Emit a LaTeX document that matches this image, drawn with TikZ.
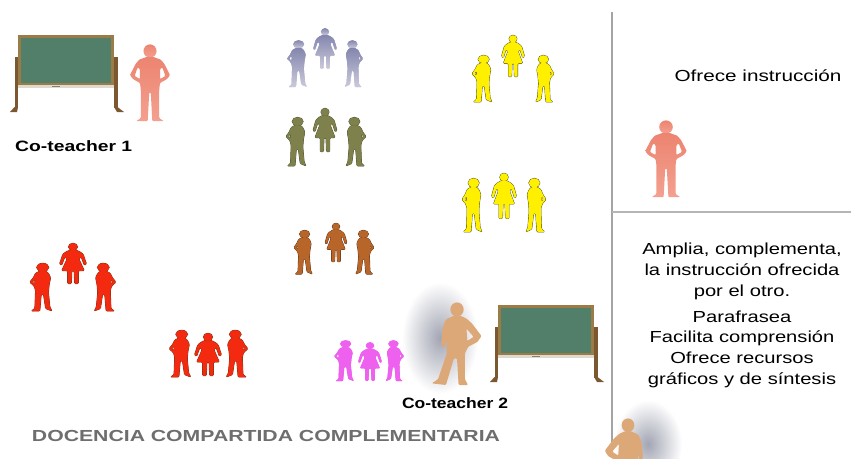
\documentclass[tikz,border=0pt]{standalone}
\usepackage{fontspec}
\setmainfont{Liberation Sans}
\usepackage{graphicx}
\definecolor{lavtop}{HTML}{8486AE}
\definecolor{lavbot}{HTML}{CBCADB}
\definecolor{olivefill}{HTML}{7E814C}
\definecolor{oliveline}{HTML}{4F5430}
\definecolor{yelfill}{HTML}{FFF000}
\definecolor{yelline}{HTML}{4A4820}
\definecolor{brownfill}{HTML}{B8652A}
\definecolor{brownline}{HTML}{5E3418}
\definecolor{redfill}{HTML}{F42A10}
\definecolor{redline}{HTML}{7A3216}
\definecolor{magfill}{HTML}{EE60EE}
\definecolor{salmontop}{HTML}{EC8470}
\definecolor{salmonbot}{HTML}{F4A090}
\definecolor{tanfill}{HTML}{DDA878}
\definecolor{glow}{HTML}{A2A5B3}
\definecolor{boardframe}{HTML}{9C7C46}
\definecolor{boardgreen}{HTML}{527F69}
\definecolor{boardleg}{HTML}{7B5830}
\definecolor{boardtray}{HTML}{DEDAD0}
\definecolor{rule}{HTML}{A4A4A4}
\definecolor{titlegray}{HTML}{6E6E6E}
\newcommand\widetext[2]{\resizebox{#1}{\height}{#2}}
\tikzset{
  % silhouettes, drawn with y pointing down, 100 units tall, origin on top of the head
  head path/.style={insert path={(0,9) circle (8.5)}},
  side head path/.style={insert path={(1,9) circle (8.5)}},
  woman body path/.style={insert path={(-5,16.5) -- (-13,21) -- (-19,27) -- (-25,50) -- (-21,53)
      -- (-15,33) -- (-11,38) -- (-21,66) -- (-10,66) -- (-10,97) -- (-3,97) -- (-2,66) -- (2,66)
      -- (3,97) -- (10,97) -- (10,66) -- (21,66) -- (11,38) -- (15,33) -- (21,53) -- (25,50)
      -- (19,27) -- (13,21) -- (5,16.5) -- cycle}},
  side body path/.style={insert path={(-3,16.5) -- (-9,21) -- (-12,30) -- (-17,39) -- (-11,47)
      -- (-9,56) -- (-10,93) -- (-15,98) -- (-3,98) -- (-1,64) -- (2,64) -- (5,93) -- (14,98)
      -- (11,90) -- (9,60) -- (10,44) -- (12,30) -- (9,21) -- (5,16.5) -- cycle
      (-10,33) -- (-13.5,39) -- (-10,43) -- cycle}},
  front body path/.style={insert path={(-4,16.5) -- (-14,20) -- (-19,26) -- (-26,40) -- (-22,45)
      -- (-13,50) -- (-12,58) -- (-12,95) -- (-18,99) -- (-3,99) -- (-1,62) -- (1,62) -- (3,99)
      -- (18,99) -- (12,95) -- (12,58) -- (13,50) -- (22,45) -- (26,40) -- (19,26) -- (14,20)
      -- (4,16.5) -- cycle
      (-16,30) -- (-20,41) -- (-13,45) -- (-13,32) -- cycle
      (16,30) -- (20,41) -- (13,45) -- (13,32) -- cycle}},
  stride body path/.style={insert path={(-4,16.5) -- (-14,21) -- (-18,30) -- (-20,50) -- (-16,56)
      -- (-13,44) -- (-13,62) -- (-24,93) -- (-32,98) -- (-14,100) -- (-4,68) -- (0,68) -- (2,100)
      -- (14,100) -- (10,93) -- (10,62) -- (14,54) -- (26,48) -- (31,41) -- (19,26) -- (12,20)
      -- (4,16.5) -- cycle
      (12,32) -- (21,42) -- (13,47) -- cycle}},
  % outline pass first, then a fill-only pass that hides inner seams
  woman/.pic={
    \path[pic actions, head path];
    \path[pic actions, rounded corners=1, woman body path];
    \path[pic actions, draw=none, head path];
    \path[pic actions, draw=none, rounded corners=1, woman body path];
  },
  side/.pic={
    \path[pic actions, side head path];
    \path[pic actions, even odd rule, rounded corners=1, side body path];
    \path[pic actions, draw=none, side head path];
    \path[pic actions, draw=none, even odd rule, rounded corners=1, side body path];
  },
  frontman/.pic={
    \path[pic actions, head path];
    \path[pic actions, even odd rule, rounded corners=1, front body path];
  },
  strideman/.pic={
    \path[pic actions, head path];
    \path[pic actions, even odd rule, rounded corners=1, stride body path];
  },
  chalkboard/.pic={
    \fill[boardleg] (-3.5,22) rectangle (0,73);
    \fill[boardleg] (96,22) rectangle (99.5,73);
    \fill[boardleg] (-3.5,72) -- (0,72) -- (-1,77) -- (-8,77) -- cycle;
    \fill[boardleg] (96,72) -- (99.5,72) -- (106,77) -- (99,77) -- cycle;
    \fill[boardframe] (0,0) rectangle (96,50);
    \fill[boardgreen] (3,3) rectangle (93,47.5);
    \fill[boardtray] (0,50) rectangle (96,53);
    \fill[gray] (34,50.6) rectangle (42,52.4);
  },
  lav/.style={top color=lavtop, bottom color=lavbot, draw=none},
  olv/.style={fill=olivefill, draw=oliveline, line width=0.8pt},
  yel/.style={fill=yelfill, draw=yelline, line width=0.8pt},
  brn/.style={fill=brownfill, draw=brownline, line width=0.8pt},
  rd/.style={fill=redfill, draw=redline, line width=0.8pt},
  mag/.style={fill=magfill, draw=none},
  salmon/.style={top color=salmontop, bottom color=salmonbot, draw=none},
  tan/.style={fill=tanfill, draw=none},
  label/.style={inner sep=0pt, font=\fontsize{15}{18}\selectfont\bfseries},
  panel/.style={inner sep=0pt, align=center, font=\fontsize{16}{21}\selectfont},
}
\begin{document}
\begin{tikzpicture}[x=1pt,y=-1pt]
\useasboundingbox (0,0) rectangle (851,458);
\fill[white] (0,0) rectangle (851,458);

% right-hand panel rules
\coordinate (vtop) at (612,12);
\coordinate (vbot) at (612,458);
\coordinate (hleft) at (612,212);
\coordinate (hright) at (851,212);
\draw[rule, line width=1.6pt] (vtop) -- (vbot);
\draw[rule!80, line width=1.4pt] (hleft) -- (hright);

% soft shadows behind the second teacher
\shade[inner color=glow, outer color=white] (440,338) ellipse (38 and 56);
\shade[inner color=glow, outer color=white] (648,444) ellipse (34 and 44);

% chalkboards
\pic at (18,35) {chalkboard};
\pic at (498,305) {chalkboard};

% teachers
\pic[salmon, xscale=0.77, yscale=0.78] at (150,44) {frontman};
\pic[salmon, xscale=0.80, yscale=0.78] at (666,120) {frontman};
\pic[tan, xscale=0.79, yscale=0.83] at (457,302) {strideman};
\pic[tan, xscale=-0.75, yscale=0.80] at (628,418) {strideman};

% student groups
\pic[lav, xscale=0.65, yscale=0.48] at (298,40) {side};
\pic[lav, xscale=0.48, yscale=0.42] at (325,28) {woman};
\pic[lav, xscale=-0.60, yscale=0.48] at (353,40) {side};

\pic[olv, xscale=0.65, yscale=0.50] at (297,117) {side};
\pic[olv, xscale=0.48, yscale=0.45] at (325,108) {woman};
\pic[olv, xscale=-0.65, yscale=0.50] at (355,117) {side};

\pic[yel, xscale=0.65, yscale=0.48] at (483,55) {side};
\pic[yel, xscale=0.46, yscale=0.43] at (513,35) {woman};
\pic[yel, xscale=-0.60, yscale=0.48] at (544,55) {side};

\pic[yel, xscale=0.65, yscale=0.55] at (473,178) {side};
\pic[yel, xscale=0.50, yscale=0.47] at (504,173) {woman};
\pic[yel, xscale=-0.65, yscale=0.55] at (535,178) {side};

\pic[brn, xscale=0.60, yscale=0.45] at (304,230) {side};
\pic[brn, xscale=0.44, yscale=0.40] at (336,223) {woman};
\pic[brn, xscale=-0.60, yscale=0.45] at (364,230) {side};

\pic[rd, xscale=0.72, yscale=0.49] at (42,263) {side};
\pic[rd, xscale=0.54, yscale=0.42] at (73,243) {woman};
\pic[rd, xscale=-0.70, yscale=0.49] at (104,263) {side};

\pic[rd, xscale=0.70, yscale=0.48] at (181,330) {side};
\pic[rd, xscale=0.54, yscale=0.44] at (208,333) {woman};
\pic[rd, xscale=-0.70, yscale=0.48] at (236,330) {side};

\pic[mag, xscale=0.65, yscale=0.42] at (345,340) {side};
\pic[mag, xscale=0.48, yscale=0.40] at (370,342) {woman};
\pic[mag, xscale=-0.60, yscale=0.42] at (394,340) {side};

% labels
\node[label, anchor=west] (ct1) at (15,146) {\widetext{117pt}{Co-teacher 1}};
\node[label] (ct2) at (455,403) {\widetext{106pt}{Co-teacher 2}};
\node[inner sep=0pt, text=titlegray, font=\fontsize{16}{19}\selectfont\bfseries] (title) at (266,436)
  {\widetext{468pt}{DOCENCIA COMPARTIDA COMPLEMENTARIA}};
\node[panel] (role1) at (758,76) {\widetext{167pt}{Ofrece instrucción}};
\node[panel] (role2a) at (742,271) {\scalebox{1.26}[1]{\begin{tabular}{@{}c@{}}Amplia, complementa,\\la instrucción ofrecida\\por el otro.\end{tabular}}};
\node[panel, font=\fontsize{16}{20.6}\selectfont] (role2b) at (742,349) {\scalebox{1.26}[1]{\begin{tabular}{@{}c@{}}Parafrasea\\Facilita comprensión\\Ofrece recursos\\gráficos y de síntesis\end{tabular}}};
\end{tikzpicture}
\end{document}
